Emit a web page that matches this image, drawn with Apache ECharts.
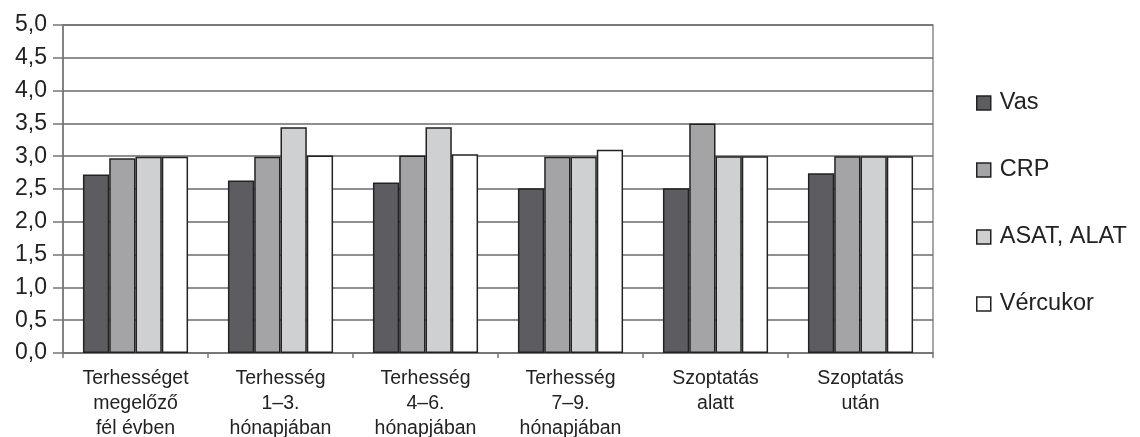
<!DOCTYPE html>
<html>
<head>
<meta charset="utf-8">
<script src="https://cdn.jsdelivr.net/npm/echarts@6/dist/echarts.min.js"></script>
<style>html,body{margin:0;padding:0;background:#fff;}#c{width:1140px;height:437px;}</style>
</head>
<body>
<div id="c"></div>
<script>
const categories = ['Terhességet\nmegelőző\nfél évben', 'Terhesség\n1–3.\nhónapjában', 'Terhesség\n4–6.\nhónapjában', 'Terhesség\n7–9.\nhónapjában', 'Szoptatás\nalatt', 'Szoptatás\nután'];
const seriesNames = ['Vas', 'CRP', 'ASAT, ALAT', 'Vércukor'];
const vas = [2.72, 2.63, 2.60, 2.51, 2.51, 2.74];
const crp = [2.97, 2.99, 3.01, 2.99, 3.50, 3.00];
const asatAlat = [2.99, 3.44, 3.44, 2.99, 3.00, 3.00];
const vercukor = [2.99, 3.01, 3.03, 3.10, 3.00, 3.00];
const yTicks = { min: 0, max: 5, interval: 0.5 };

const colors = ['#5d5c61', '#a4a4a6', '#cfd0d2', '#ffffff'];
const values = [vas, crp, asatAlat, vercukor];
const font = 'Liberation Sans, Arial, sans-serif';

const chart = echarts.init(document.getElementById('c'), null, { renderer: 'canvas' });
chart.setOption({
  animation: false,
  backgroundColor: '#fff',
  textStyle: { fontFamily: font },
  grid: { left: 63, right: 207, top: 25, bottom: 84, outerBoundsMode: 'none', containLabel: false, show: true, borderColor: '#8a8a8a', borderWidth: 1.5, backgroundColor: 'transparent' },
  legend: {
    orient: 'vertical', left: 971, top: 86, itemGap: 43, itemWidth: 14, itemHeight: 14,
    icon: 'rect',
    textStyle: { fontSize: 23.5, color: '#222', fontFamily: font, padding: [0, 0, 0, 4] },
    data: seriesNames.map((n, i) => ({ name: n, itemStyle: { color: colors[i], borderColor: '#222', borderWidth: 1.5 } }))
  },
  xAxis: {
    type: 'category', data: categories,
    axisLine: { lineStyle: { color: '#777', width: 1.5 } },
    axisTick: { show: true, length: 5, lineStyle: { color: '#777', width: 1.5 } },
    axisLabel: { fontSize: 19.5, color: '#222', lineHeight: 25, margin: 13, interval: 0 },
    splitLine: { show: false }
  },
  yAxis: {
    type: 'value', min: yTicks.min, max: yTicks.max, interval: yTicks.interval,
    axisLine: { show: true, lineStyle: { color: '#777', width: 1.5 } },
    axisTick: { show: true, length: 10, lineStyle: { color: '#777', width: 1.5 } },
    axisLabel: { fontSize: 23, color: '#222', margin: 16, formatter: v => v.toFixed(1).replace('.', ',') },
    splitLine: { show: true, lineStyle: { color: '#6a6a6a', width: 1.5 } }
  },
  series: seriesNames.map((n, i) => ({
    name: n, type: 'bar', data: values[i],
    barGap: '0%', barCategoryGap: '27.5%',
    itemStyle: { color: colors[i], borderColor: '#222', borderWidth: 1.5 }
  }))
});
</script>
</body>
</html>
